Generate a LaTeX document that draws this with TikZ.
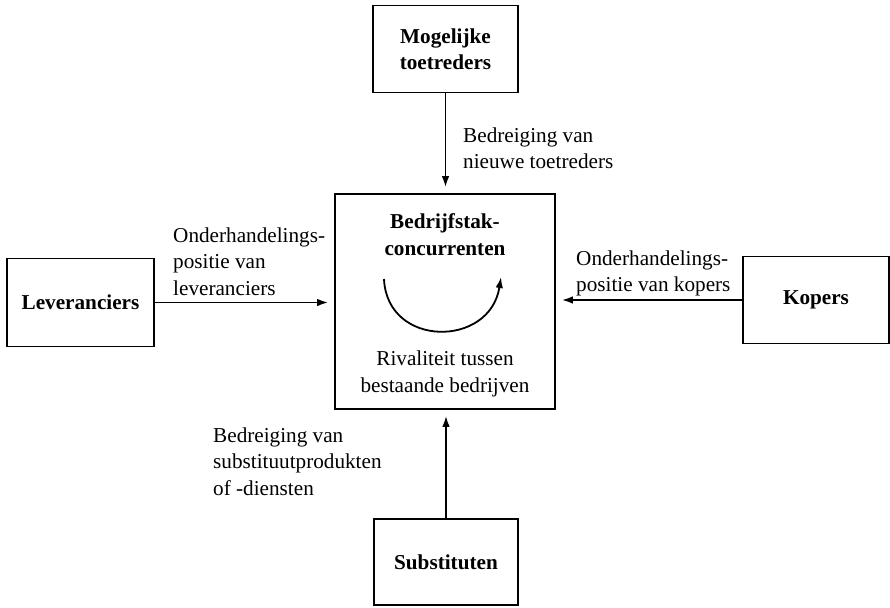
\documentclass[tikz,border=0pt]{standalone}
\usepackage{fontspec}
\setmainfont{Liberation Serif}
\usetikzlibrary{arrows.meta}
\newcommand{\dfont}{\fontsize{21.2pt}{26.5pt}\selectfont}
\newcommand{\bfont}{\fontsize{21.2pt}{25.5pt}\selectfont\bfseries}
\begin{document}
\begin{tikzpicture}[x=1pt,y=-1pt,
  box/.style={draw, line width=1.6pt, inner sep=0pt, align=center, font=\bfont},
  lbl/.style={anchor=north west, inner sep=0pt, align=left, font=\dfont},
  conn/.style={line width=1.8pt, -{Latex[length=11pt,width=7.5pt]}, shorten >=6pt}]
\useasboundingbox (0,0) rectangle (890,607);
% boxes
\node[box, minimum width=145pt, minimum height=87pt] (top) at (445.5,49) {Mogelijke\\toetreders};
\node[box, minimum width=147pt, minimum height=88pt] (lev) at (80.5,302.5) {Leveranciers};
\node[box, minimum width=146pt, minimum height=87pt] (kop) at (816,300) {Kopers};
\node[box, minimum width=144pt, minimum height=86pt] (sub) at (446,562) {Substituten};
\node[draw, line width=1.6pt, inner sep=0pt, minimum width=220pt, minimum height=215pt] (mid) at (445,301.5) {};
% centre box content
\node[anchor=north, inner sep=0pt, align=center, font=\fontsize{21.2pt}{27pt}\selectfont\bfseries] (midtitle) at (445,213.5) {Bedrijfstak-\\concurrenten};
\node[anchor=north, inner sep=0pt, align=center, font=\fontsize{21.2pt}{27pt}\selectfont] (midsub) at (445,350.5) {Rivaliteit tussen\\bestaande bedrijven};
\coordinate (arcA) at (384,279);
\coordinate (arcB) at (501,277);
\draw[line width=1.8pt, -{Latex[length=11pt,width=7.5pt]}] (arcA) .. controls (387,348) and (490,348) .. (arcB);
% connectors
\draw[conn] (top.south) -- (top.south |- mid.north);
\draw[conn] (lev.east) -- (lev.east -| mid.west);
\draw[conn] (kop.west) -- (kop.west -| mid.east);
\draw[conn] (sub.north) -- (sub.north |- mid.south);
% labels
\node[lbl] (l1) at (463,127.5) {Bedreiging van\\nieuwe toetreders};
\node[lbl] (l2) at (173,227.5) {Onderhandelings-\\positie van\\leveranciers};
\node[lbl] (l3) at (576,250.5) {Onderhandelings-\\positie van kopers};
\node[lbl] (l4) at (213,427.5) {Bedreiging van\\substituutprodukten\\of -diensten};
\end{tikzpicture}
\end{document}
